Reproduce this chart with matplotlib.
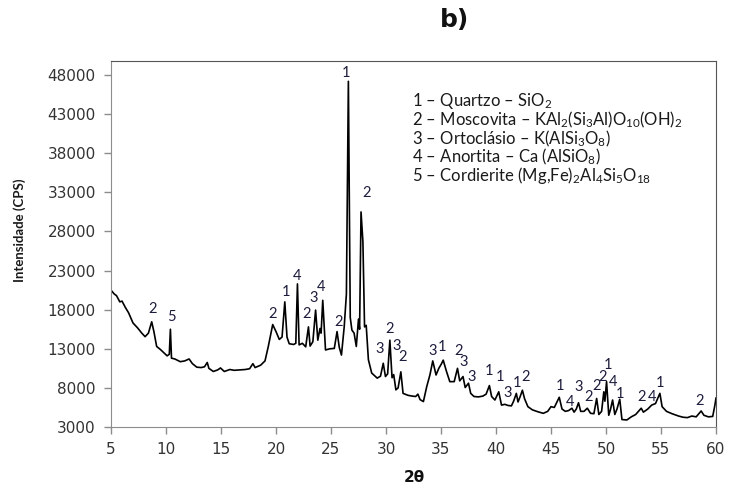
import matplotlib
matplotlib.use("Agg")
import matplotlib.pyplot as plt

# difratograma - amostra b
two_theta = [5.0, 5.3, 5.5, 5.8, 6.0, 6.3, 6.6, 7.0, 7.4, 7.8, 8.1, 8.4, 8.7, 8.9, 9.15,
             9.5, 9.8, 10.1, 10.3, 10.4, 10.5, 10.8, 11.3, 11.7, 12.1, 12.4, 12.8, 13.2,
             13.5, 13.75, 13.9, 14.3, 14.7, 14.95, 15.3, 15.8, 16.2, 16.7, 17.2, 17.6,
             17.9, 18.1, 18.6, 19.0, 19.3, 19.7, 20.0, 20.3, 20.55, 20.8, 21.0, 21.2,
             21.6, 21.8, 21.95, 22.1, 22.4, 22.7, 22.95, 23.1, 23.35, 23.6, 23.8, 24.0,
             24.1, 24.25, 24.5, 24.9, 25.3, 25.55, 25.75, 25.95, 26.2, 26.4, 26.58,
             26.75, 26.9, 27.1, 27.3, 27.5, 27.6, 27.73, 27.9, 28.05, 28.2, 28.4, 28.7,
             29.2, 29.5, 29.75, 29.95, 30.15, 30.35, 30.55, 30.7, 30.9, 31.1, 31.35,
             31.55, 32.0, 32.4, 32.7, 32.9, 33.1, 33.4, 33.7, 34.0, 34.25, 34.55, 34.8,
             35.05, 35.2, 35.5, 35.8, 36.2, 36.5, 36.7, 37.0, 37.2, 37.5, 37.7, 38.0,
             38.4, 38.8, 39.1, 39.4, 39.6, 39.9, 40.25, 40.5, 40.8, 41.1, 41.4, 41.6,
             41.85, 42.0, 42.2, 42.4, 42.6, 42.9, 43.3, 43.8, 44.3, 44.7, 45.0, 45.3,
             45.75, 46.0, 46.3, 46.6, 46.9, 47.1, 47.3, 47.5, 47.7, 48.0, 48.3, 48.6,
             48.9, 49.15, 49.35, 49.6, 49.8, 49.9, 50.05, 50.25, 50.4, 50.6, 50.8, 51.0,
             51.25, 51.45, 51.9, 52.3, 52.7, 53.2, 53.4, 53.8, 54.15, 54.5, 54.9, 55.1,
             55.5, 56.0, 56.6, 57.0, 57.4, 57.8, 58.2, 58.65, 58.9, 59.3, 59.7, 59.9, 60.0]
intensity = [20500, 20000, 19800, 19000, 19100, 18300, 17600, 16300, 15700, 15000, 14550,
             15000, 16450, 15200, 13300, 12900, 12500, 12100, 12300, 15500, 11800, 11700,
             11350, 11450, 11700, 11100, 10650, 10600, 10700, 11250, 10500, 10100, 10300,
             10550, 10100, 10350, 10250, 10300, 10350, 10450, 11100, 10600, 10900, 11450,
             13300, 16100, 15200, 14200, 14500, 19000, 14500, 13650, 13550, 13700, 21300,
             13500, 13700, 13250, 15800, 13350, 13900, 17950, 14100, 15600, 15000, 19200,
             12850, 13000, 13050, 15200, 13200, 12200, 15800, 20000, 47200, 17000, 15400,
             15000, 13300, 16800, 15500, 30500, 26700, 15800, 16000, 11600, 9900, 9250,
             9500, 11150, 9450, 9800, 14100, 9300, 9700, 7750, 8000, 10050, 7300, 7050,
             6950, 6900, 7200, 6500, 6250, 8150, 9700, 11450, 9650, 10500, 11100, 11550,
             10100, 8800, 8800, 10500, 8900, 9450, 8050, 8600, 7300, 6900, 6850, 6950,
             7200, 8300, 6900, 6450, 7500, 5800, 5900, 5750, 5700, 6300, 7300, 6200, 6900,
             7700, 6600, 5600, 5200, 4950, 4750, 5000, 5600, 5500, 6800, 5300, 5000, 5100,
             5400, 4900, 5300, 6100, 5000, 5000, 5400, 4750, 4700, 6650, 4600, 5000, 7500,
             6300, 8800, 4500, 5200, 6450, 4600, 5300, 6550, 3950, 3900, 4300, 4600, 5400,
             4900, 5300, 5800, 6000, 7300, 5600, 5000, 4700, 4400, 4250, 4200, 4400, 4300,
             5050, 4500, 4300, 4350, 5800, 6700]

# identificacao dos picos (fase, posicao do rotulo)
peak_ids = ["2", "5", "2", "1", "4", "2", "3", "4", "2", "1", "2", "3", "2", "3", "2",
            "3", "1", "2", "3", "3", "1", "1", "3", "1", "2", "1", "4", "3", "2", "2",
            "2", "1", "4", "1", "2", "4", "1", "2"]
peak_x = [8.8, 10.45, 19.7, 20.9, 21.9, 22.8, 23.45, 24.1, 25.7, 26.36, 28.2, 29.45,
          30.36, 31.0, 31.55, 34.27, 35.1, 36.6, 37.1, 37.8, 39.4, 40.4, 41.05, 41.9,
          42.73, 45.85, 46.75, 47.5, 48.4, 49.1, 49.7, 50.2, 50.6, 51.25, 53.25, 54.15,
          54.9, 58.55]
peak_y = [18100, 17060, 17450, 20260, 22300, 17450, 19490, 20900, 16420, 48260, 32900,
          12970, 15530, 13360, 11950, 12720, 13230, 12720, 11310, 9390, 10100, 9400,
          7370, 8650, 9350, 8200, 6200, 8130, 6860, 8200, 9450, 10900, 8800, 7250, 6800,
          6880, 8660, 6320]

legend_lines = ["1 – Quartzo – SiO$_2$",
                "2 – Moscovita – KAl$_2$(Si$_3$Al)O$_{10}$(OH)$_2$",
                "3 – Ortoclásio – K(AlSi$_3$O$_8$)",
                "4 – Anortita – Ca (AlSiO$_8$)",
                "5 – Cordierite (Mg,Fe)$_2$Al$_4$Si$_5$O$_{18}$"]

plt.rcParams['mathtext.fontset'] = 'custom'
plt.rcParams['mathtext.rm'] = 'Lato'
plt.rcParams['mathtext.it'] = 'Lato'
plt.rcParams['mathtext.bf'] = 'Lato:bold'

fig = plt.figure(figsize=(7.29, 4.92), dpi=100)
ax = fig.add_axes([111/729, 1-427/492, 605/729, 366/492])

ax.plot(two_theta, intensity, color='black', linewidth=1.2)

for lab, px, py in zip(peak_ids, peak_x, peak_y):
    ax.text(px, py, lab, ha='center', va='center', fontsize=10.5,
            family='Lato', color='#1c1c3c')

y0 = 0.891
for line in legend_lines:
    ax.text(0.4975, y0, line, transform=ax.transAxes, ha='left', va='center',
            fontsize=12, family='Lato', color='#1a1a1a')
    y0 -= 0.0513

ax.set_xlim(5, 60)
ax.set_ylim(3000, 49800)
ax.set_xticks(range(5, 61, 5))
ax.set_yticks(range(3000, 48001, 5000))
ax.tick_params(direction='out', length=5, width=1, color='#8c8c8c',
               labelsize=11, labelcolor='#333333', pad=6)

for side in ['left', 'bottom']:
    ax.spines[side].set_color('#8c8c8c')
for side in ['top', 'right']:
    ax.spines[side].set_color('#555555')

fig.text(20/729, 1-230/492, "Intensidade (CPS)", rotation=90, ha='center', va='center',
         fontsize=9.5, family='Lato', fontweight='bold', color='#1a1a1a')
fig.text(414/729, 1-477/492, "2θ", ha='center', va='center', fontsize=11,
         fontweight='bold', color='#111111')
fig.text(454/729, 1-20/492, "b)", ha='center', va='center', fontsize=18,
         fontweight='bold', color='#111111')

fig.savefig("out.png", dpi=100)
